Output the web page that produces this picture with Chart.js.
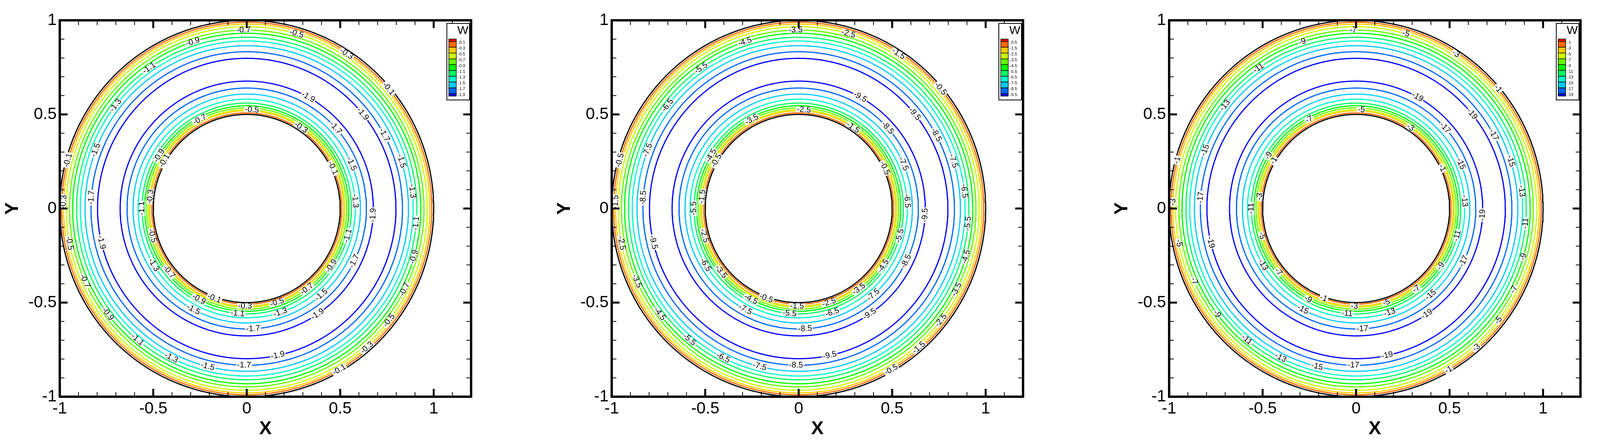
<!DOCTYPE html>
<html>
<head>
<meta charset="utf-8">
<script src="https://cdn.jsdelivr.net/npm/chart.js@4"></script>
<style>
  body { margin: 0; background: #fff; width: 4106px; height: 1132px; overflow: hidden; position: relative; }
  canvas { position: absolute; top: 0; }
</style>
</head>
<body>
<canvas id="c1" style="left:0px"></canvas>
<canvas id="c2" style="left:1413px"></canvas>
<canvas id="c3" style="left:2840px"></canvas>
<script>
// contour levels of W for each panel (outermost / lightest first)
const levels1 = [-0.1, -0.3, -0.5, -0.7, -0.9, -1.1, -1.3, -1.5, -1.7, -1.9];
const levels2 = [-0.5, -1.5, -2.5, -3.5, -4.5, -5.5, -6.5, -7.5, -8.5, -9.5];
const levels3 = [-1, -3, -5, -7, -9, -11, -13, -15, -17, -19];
// radius where each level is crossed, near the inner wall and near the outer wall
const innerRadii = [0.508, 0.519, 0.525, 0.535, 0.546, 0.560, 0.581, 0.608, 0.640, 0.677];
const outerRadii = [0.990, 0.980, 0.966, 0.948, 0.931, 0.910, 0.890, 0.865, 0.833, 0.798];
const wallRadii = [0.5, 1.0];
const levelColors = ['#ff6600', '#ffcc00', '#ccff00', '#66ff00', '#00ff00', '#00ff66', '#00ffcc', '#00ccff', '#0066ff', '#0000ff'];
const legendColors = ['#ff0000', '#ff6600', '#ffcc00', '#ccff00', '#66ff00', '#00ff00', '#00ff66', '#00ffcc', '#00ccff', '#0066ff', '#0000ff'];
const xTicks = [-1, -0.5, 0, 0.5, 1];
const yTicks = [-1, -0.5, 0, 0.5, 1];

function circle(r) {
    let pts = [];
    for (let a = 0; a <= 360; a += 1) {
        let t = a * Math.PI / 180;
        pts.push({x: r * Math.cos(t), y: r * Math.sin(t)});
    }
    return pts;
}

function fmt(v) { return String(v); }

const framePlugin = {
    id: 'frame',
    afterDraw(chart) {
        const ctx = chart.ctx;
        const a = chart.chartArea;
        const xs = chart.scales.x, ys = chart.scales.y;
        ctx.save();
        // contour labels
        const lv = chart.options.plugins.frame.levels;
        ctx.font = '21px "Liberation Sans", Arial, sans-serif';
        ctx.textAlign = 'center';
        ctx.textBaseline = 'middle';
        lv.forEach((v, i) => {
            [innerRadii[i], outerRadii[i]].forEach((r, k) => {
                let angs = k == 0 ? [25 + i * 31, 150 + i * 23, 250 + i * 19] : [40 + i * 17, 165 + i * 13, 300 + i * 11];
                angs.forEach(deg => {
                    let t = deg * Math.PI / 180;
                    let px = xs.getPixelForValue(r * Math.cos(t));
                    let py = ys.getPixelForValue(r * Math.sin(t));
                    ctx.save();
                    ctx.translate(px, py);
                    let rot = -t + Math.PI / 2;
                    if (Math.cos(rot) < 0) rot += Math.PI;
                    ctx.rotate(rot);
                    let w = ctx.measureText(fmt(v)).width;
                    ctx.fillStyle = '#fff';
                    ctx.fillRect(-w / 2 - 2, -7, w + 4, 14);
                    ctx.fillStyle = '#000';
                    ctx.fillText(fmt(v), 0, 0);
                    ctx.restore();
                });
            });
        });
        // frame
        ctx.strokeStyle = '#000';
        ctx.lineWidth = 6;
        ctx.strokeRect(a.left, a.top, a.right - a.left, a.bottom - a.top);
        // inward ticks
        for (let k = -10; k <= 12; k++) {
            let v = k / 10;
            let major = k % 5 == 0;
            let len = major ? 20 : 12;
            ctx.lineWidth = major ? 5 : 2;
            let px = xs.getPixelForValue(v);
            ctx.beginPath();
            ctx.moveTo(px, a.bottom); ctx.lineTo(px, a.bottom - len);
            ctx.moveTo(px, a.top); ctx.lineTo(px, a.top + len);
            ctx.stroke();
            if (k <= 10) {
                let py = ys.getPixelForValue(v);
                ctx.beginPath();
                ctx.moveTo(a.left, py); ctx.lineTo(a.left + len, py);
                ctx.moveTo(a.right, py); ctx.lineTo(a.right - len, py);
                ctx.stroke();
            }
        }
        // legend box
        const bx = a.right - 62, by = a.top + 8, bw = 58, bh = 196;
        ctx.fillStyle = '#fff';
        ctx.fillRect(bx, by, bw, bh);
        ctx.lineWidth = 2;
        ctx.strokeRect(bx, by, bw, bh);
        ctx.fillStyle = '#000';
        ctx.textAlign = 'right';
        ctx.textBaseline = 'top';
        ctx.font = '30px "Liberation Sans", Arial, sans-serif';
        ctx.fillText('W', bx + bw - 3, by + 4);
        const sx = bx + 5, sy = by + 40, sw = 19, sh = 14.9;
        legendColors.forEach((c, i) => {
            let h = (i == 0 || i == 10) ? 6 : sh;
            let y0 = i == 0 ? sy : sy + 6 + (i - 1) * sh;
            ctx.fillStyle = c;
            ctx.fillRect(sx, y0, sw, h);
            ctx.strokeStyle = '#000';
            ctx.lineWidth = 1.5;
            ctx.strokeRect(sx, y0, sw, h);
        });
        ctx.fillStyle = '#000';
        ctx.textAlign = 'left';
        ctx.textBaseline = 'middle';
        ctx.font = '11px "Liberation Sans", Arial, sans-serif';
        lv.forEach((v, i) => {
            ctx.fillText(fmt(v), sx + sw + 4, sy + 9 + i * 14.9);
        });
        ctx.restore();
    }
};

function makePanel(id, levels) {
    let datasets = [];
    levels.forEach((v, i) => {
        [innerRadii[i], outerRadii[i]].forEach(r => {
            datasets.push({data: circle(r), borderColor: levelColors[i], borderWidth: 3,
                showLine: true, pointRadius: 0, fill: false});
        });
    });
    wallRadii.forEach(r => {
        datasets.push({data: circle(r), borderColor: '#000', borderWidth: 3,
            showLine: true, pointRadius: 0, fill: false});
    });
    const tickFont = {family: '"Liberation Sans", Arial, sans-serif', size: 42};
    const titleFont = {family: '"Liberation Sans", Arial, sans-serif', size: 48, weight: 'bold'};
    new Chart(document.getElementById(id), {
        type: 'scatter',
        data: {datasets: datasets},
        options: {
            responsive: false,
            animation: false,
            devicePixelRatio: 1,
            layout: {padding: {top: 52, right: 60, left: 0, bottom: 0}},
            plugins: {legend: {display: false}, tooltip: {enabled: false}, frame: {levels: levels}},
            scales: {
                x: {
                    type: 'linear', min: -1, max: 1.2,
                    afterBuildTicks: s => { s.ticks = xTicks.map(v => ({value: v})); },
                    ticks: {color: '#000', font: tickFont, padding: 6, callback: v => fmt(v)},
                    grid: {display: false, drawTicks: false},
                    border: {display: false},
                    title: {display: true, text: 'X', color: '#000', font: titleFont, padding: {top: 0}},
                    afterFit: s => { s.height = 116; }
                },
                y: {
                    type: 'linear', min: -1, max: 1,
                    afterBuildTicks: s => { s.ticks = yTicks.map(v => ({value: v})); },
                    ticks: {color: '#000', font: tickFont, padding: 8, callback: v => fmt(v)},
                    grid: {display: false, drawTicks: false},
                    border: {display: false},
                    title: {display: true, text: 'Y', color: '#000', font: titleFont, padding: {bottom: 16}},
                    afterFit: s => { s.width = 153; }
                }
            }
        },
        plugins: [framePlugin]
    });
}

['c1', 'c2', 'c3'].forEach(id => {
    const c = document.getElementById(id);
    c.width = 1266; c.height = 1132;
});
makePanel('c1', levels1);
makePanel('c2', levels2);
makePanel('c3', levels3);
</script>
</body>
</html>
